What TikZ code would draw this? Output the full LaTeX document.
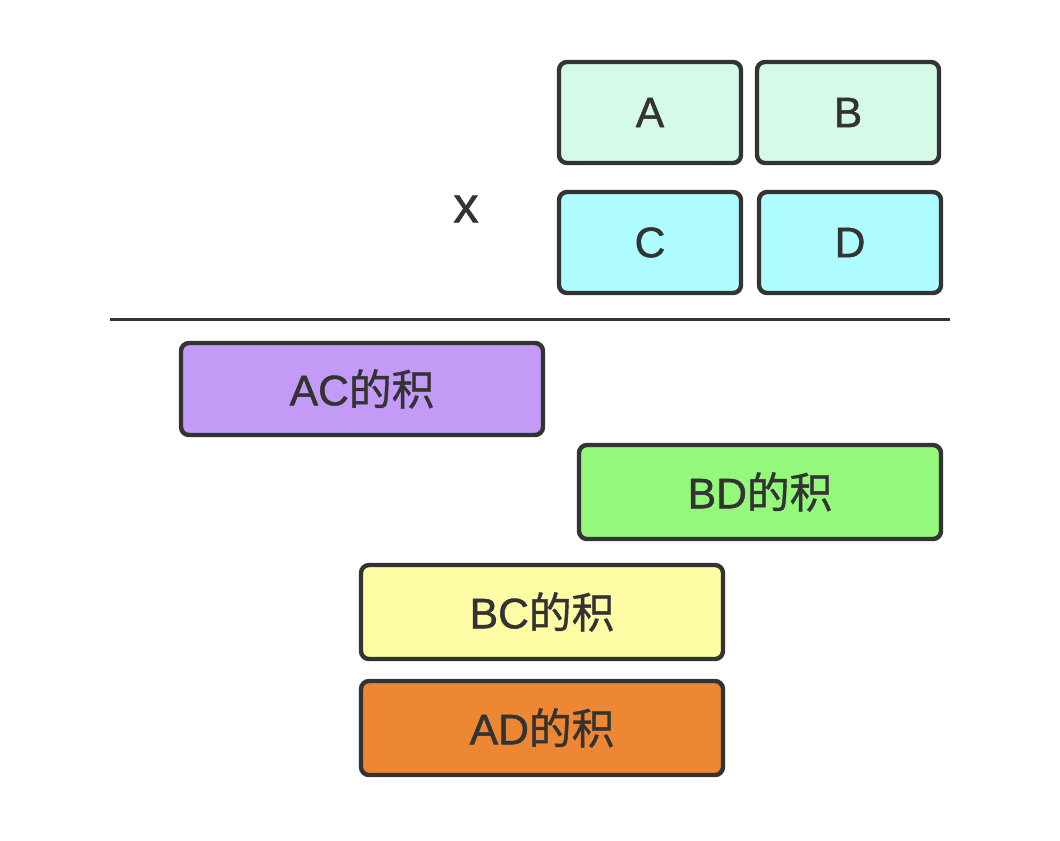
\documentclass[tikz,border=0pt]{standalone}
\usepackage{fontspec}
\setmainfont{Liberation Sans}[FakeBold=1.1]
\newfontfamily\cjk{Noto Sans CJK SC}[FakeBold=0.9]
\definecolor{ink}{HTML}{333333}
\definecolor{mint}{HTML}{D5FBE8}
\definecolor{aqua}{HTML}{AEFCFF}
\definecolor{lilac}{HTML}{C39BF7}
\definecolor{lime}{HTML}{94F87C}
\definecolor{lemon}{HTML}{FFFCA6}
\definecolor{amber}{HTML}{EE8734}
\tikzset{
  digit/.style={draw=ink, line width=3.3pt, rounded corners=6pt, fill=#1,
    minimum width=136.5pt, minimum height=75.75pt, text=ink, font=\fontsize{32}{36}\selectfont},
  partial/.style={digit=#1, minimum width=271.5pt, minimum height=70.5pt}
}
\newcommand{\partprod}[1]{#1{\cjk 的积}}

\begin{document}
\begin{tikzpicture}[x=0.75pt, y=-0.75pt]
\useasboundingbox (0,0) rectangle (1060,840);
%\draw[help lines] (0,0) grid[step=100] (1060,840);

\node[digit=mint] (a) at (650,112.5) {A};
\node[digit=mint] (b) at (848,112.5) {B};
\node[digit=aqua] (c) at (650,242.5) {C};
\node[digit=aqua] (d) at (850,242.5) {D};
\node[text=ink, font=\fontsize{38}{40}\selectfont] (times) at (466,209) {x};

\coordinate (rulel) at (110,319);
\coordinate (ruler) at (950,319);
\draw[ink, line width=2.25pt] (rulel) -- (ruler);

\node[partial=lilac, minimum height=69pt] (ac) at (362,389) {\partprod{AC}};
\node[partial=lime] (bd) at (760,492) {\partprod{BD}};
\node[partial=lemon] (bc) at (542,612) {\partprod{BC}};
\node[partial=amber] (ad) at (542,728) {\partprod{AD}};

\end{tikzpicture}
\end{document}
